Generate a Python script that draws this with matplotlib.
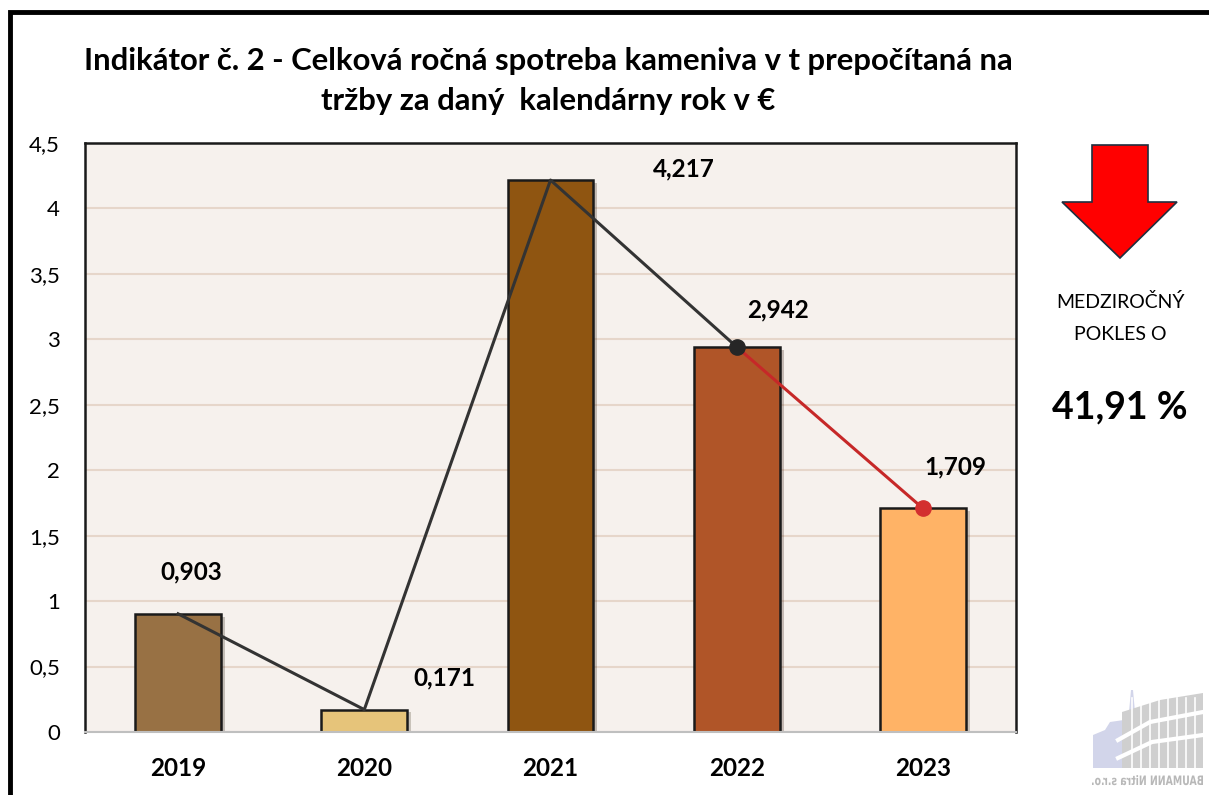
import matplotlib
matplotlib.use('Agg')
import matplotlib.pyplot as plt
import matplotlib.patheffects as pe
from matplotlib.patches import Polygon, PathPatch
from matplotlib.textpath import TextPath
from matplotlib.font_manager import FontProperties
from matplotlib.transforms import Affine2D

plt.rcParams['font.family'] = ['Lato', 'DejaVu Sans']

# chart data
years = ['2019', '2020', '2021', '2022', '2023']
values = [0.903, 0.171, 4.217, 2.942, 1.709]
value_labels = ['0,903', '0,171', '4,217', '2,942', '1,709']
bar_colors = ['#987144', '#e6c47a', '#8f5511', '#b05528', '#ffb366']
yticks = [0, 0.5, 1, 1.5, 2, 2.5, 3, 3.5, 4, 4.5]
ytick_labels = ['0', '0,5', '1', '1,5', '2', '2,5', '3', '3,5', '4', '4,5']
decline_text = '41,91 %'
title = ('Indikátor č. 2 - Celková ročná spotreba kameniva v t prepočítaná na\n'
         'tržby za daný  kalendárny rok v €')

# label offsets from the bar top, in pixels (right, up)
label_offsets = [(13, 42), (80, 32), (133, 11), (41, 37), (32, 41)]

W, H = 1209, 795
fig = plt.figure(figsize=(W / 100, H / 100), dpi=100)
fig.patch.set_facecolor('white')

ax = fig.add_axes([85 / W, (H - 732) / H, 931 / W, 589 / H])
ax.set_facecolor('#f6f1ed')
ax.set_xlim(-0.5, 4.5)
ax.set_ylim(0, 4.5)
ax.set_yticks(yticks)
ax.set_yticklabels(ytick_labels, fontsize=16)
ax.set_xticks(range(len(years)))
ax.set_xticklabels(years, fontsize=17.5, fontweight='bold')
ax.tick_params(axis='y', length=0, pad=18)
ax.tick_params(axis='x', length=0, pad=18)
ax.yaxis.grid(True, color='#e6d6ca', linewidth=1.5)
ax.set_axisbelow(True)
for side in ['left', 'top', 'right']:
    ax.spines[side].set_color('#1a1a1a')
    ax.spines[side].set_linewidth(1.8)
ax.spines['bottom'].set_color('#bfbfbf')
ax.spines['bottom'].set_linewidth(1.5)

x = list(range(len(years)))
bars = ax.bar(x, values, width=0.46, color=bar_colors, edgecolor='#1a1a1a',
              linewidth=1.8, zorder=2)
for b in bars:
    b.set_path_effects([pe.SimplePatchShadow(offset=(3, -2), alpha=0.25),
                        pe.Normal()])

# connecting line: black for 2019-2022, red for last year
ax.plot(x[:4], values[:4], color='#333333', linewidth=2.2, zorder=3)
ax.plot(x[3:], values[3:], color='#c62828', linewidth=2.2, zorder=3)
ax.plot(x[3], values[3], 'o', color='#262626', markersize=11, zorder=4)
ax.plot(x[4], values[4], 'o', color='#d32f2f', markersize=11, zorder=4)

for xi, v, lab, (dx, dy) in zip(x, values, value_labels, label_offsets):
    ax.annotate(lab, (xi, v), xytext=(dx * 0.72, dy * 0.72),
                textcoords='offset points', ha='center', va='center',
                fontsize=17.5, fontweight='bold', zorder=5)

fig.text(548 / W, 1 - 81 / H, title, ha='center', va='center',
         fontsize=22.3, fontweight='bold', linespacing=1.55)

# overlay in pixel coordinates for frame, arrow, side text and logo
ov = fig.add_axes([0, 0, 1, 1], zorder=-1)
ov.set_xlim(0, W)
ov.set_ylim(H, 0)
ov.axis('off')
ov.patch.set_alpha(0)

ov.plot([10, 10, W], [H, 12, 12], color='black', linewidth=3.5,
        solid_joinstyle='miter')

arrow = [(1092, 145), (1148, 145), (1148, 202), (1177, 202), (1120, 258),
         (1062, 202), (1092, 202)]
ov.add_patch(Polygon(arrow, closed=True, facecolor='#ff0000',
                     edgecolor='#1f2f3f', linewidth=1.2))

ov.text(1120, 302, 'MEDZIROČNÝ', ha='center', va='center', fontsize=14)
ov.text(1120, 334, 'POKLES O', ha='center', va='center', fontsize=14)
ov.text(1120, 407, decline_text, ha='center', va='center', fontsize=27,
        fontweight='bold')

# faint company logo (mirrored)
ov.add_patch(Polygon([(1093, 768), (1093, 735), (1105, 730), (1110, 722),
                      (1124, 720), (1126, 712), (1129, 712), (1131, 690),
                      (1133, 690), (1135, 712), (1138, 712), (1140, 720),
                      (1146, 740), (1146, 768)],
                     closed=True, facecolor='#d2d5ea', edgecolor='none'))
ov.add_patch(Polygon([(1122, 712), (1160, 700), (1203, 693), (1203, 768),
                      (1122, 768)],
                     closed=True, facecolor='#cfcfcf', edgecolor='none'))
for xs in range(1132, 1203, 9):
    ov.plot([xs, xs], [698, 768], color='white', linewidth=1.2)
ov.plot([1118, 1150, 1203], [740, 722, 712], color='white', linewidth=3)
ov.plot([1118, 1152, 1203], [758, 742, 735], color='white', linewidth=3)

tp = TextPath((0, 0), 'BAUMANN Nitra s.r.o.', size=13,
              prop=FontProperties(family='DejaVu Sans', weight='bold'))
bb = tp.get_extents()
sx = 111 / bb.width
tr = Affine2D().scale(-sx, -1).translate(1203 + bb.x0 * sx, 785)
ov.add_patch(PathPatch(tr.transform_path(tp), facecolor='#b8b8b8',
                       edgecolor='none'))

fig.savefig('out.png', dpi=100)
